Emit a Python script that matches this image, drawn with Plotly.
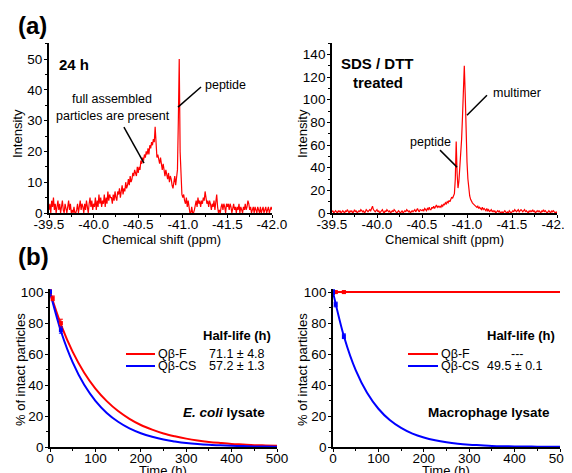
import plotly.graph_objects as go

# The page body has an 8px default margin, so the figure is drawn 8px in from the corner.
W, H, OFF = 572, 473, 8
FW, FH = W - OFF, H - OFF
FONT = "Arial, Liberation Sans, sans-serif"

# ---------------- data ----------------
shift_start, shift_step, n_pts = -39.5, -0.01, 251
shift_ppm = [round(shift_start + shift_step * i, 2) for i in range(n_pts)]
shift_ticks = [-39.5, -40.0, -40.5, -41.0, -41.5, -42.0]
shift_ticktext = ["-39.5", "-40.0", "-40.5", "-41.0", "-41.5", "-42.0"]

intensity_24h = [
    1, 3, 0, 4, 2, 5, 1, 3, 0, 2,
    4, 1, 3, 0, 2, 4, 1, 0, 3, 1,
    0, 2, 4, 1, 3, 0, 1, 0, 2, 0,
    0, 1, 3, 0, 2, 4, 1, 3, 2, 0,
    3, 1, 4, 2, 0, 3, 5, 2, 4, 1,
    3, 2, 5, 1, 4, 2, 6, 3, 5, 2,
    4, 3, 6, 2, 5, 3, 7, 4, 6, 5,
    5, 3, 6, 4, 7, 5, 4, 7, 6, 8,
    5, 7, 9, 6, 8, 7, 10, 8, 9, 11,
    9, 12, 10, 11, 13, 12, 14, 13, 12, 15,
    13, 15, 14, 17, 16, 18, 17, 19, 18, 20,
    19, 21, 19, 22, 21, 23, 22, 24, 23, 28,
    22, 18, 19, 17, 16, 18, 15, 14, 16, 13,
    12, 14, 12, 11, 13, 10, 12, 11, 9, 8,
    10, 12, 9, 11, 14, 30, 50, 20, 8, 6,
    5, 6, 4, 3, 5, 2, 4, 1, 0, 0,
    2, 0, 0, 1, 3, 4, 2, 5, 3, 4,
    2, 4, 3, 5, 4, 7, 5, 3, 4, 2,
    4, 3, 1, 3, 2, 4, 1, 5, 6, 2,
    0, 1, 0, 2, 3, 1, 3, 2, 0, 3,
    2, 3, 1, 3, 2, 0, 2, 3, 1, 2,
    0, 2, 1, 3, 0, 2, 1, 0, 2, 1,
    3, 1, 2, 4, 3, 1, 2, 0, 1, 2,
    0, 2, 1, 0, 2, 1, 0, 2, 0, 1,
    2, 0, 1, 2, 0, 1, 2, 0, 1, 2, 1,
]

intensity_sds = [
    1, 2, 0, 1, 2, 1, 0, 2, 1, 2,
    0, 1, 2, 1, 0, 2, 1, 3, 1, 0,
    2, 1, 2, 0, 1, 3, 1, 2, 0, 1,
    2, 1, 3, 2, 1, 2, 0, 1, 3, 2,
    1, 2, 3, 2, 4, 6, 3, 2, 1, 2,
    3, 1, 2, 0, 1, 2, 3, 1, 0, 2,
    1, 3, 2, 1, 2, 0, 1, 2, 1, 3,
    2, 1, 0, 1, 2, 1, 0, 1, 2, 0,
    1, 2, 1, 3, 2, 1, 2, 0, 1, 2,
    1, 2, 3, 1, 2, 4, 2, 1, 3, 2,
    2, 3, 2, 4, 3, 2, 4, 3, 5, 3,
    3, 5, 4, 6, 4, 5, 7, 5, 6, 5,
    6, 5, 7, 6, 8, 7, 9, 8, 10, 9,
    11, 10, 12, 14, 13, 15, 17, 30, 63, 35,
    22, 28, 38, 50, 65, 85, 110, 130, 105, 70,
    45, 30, 20, 15, 12, 10, 9, 8, 7, 6,
    6, 5, 6, 4, 5, 4, 3, 5, 3, 4,
    3, 2, 4, 2, 3, 1, 2, 3, 1, 2,
    1, 2, 0, 1, 2, 1, 2, 0, 1, 1,
    0, 1, 2, 1, 0, 1, 0, 2, 1, 0,
    1, 2, 1, 3, 2, 1, 2, 3, 1, 2,
    3, 2, 1, 2, 3, 1, 2, 1, 0, 2,
    1, 2, 1, 3, 1, 2, 0, 1, 2, 1,
    2, 1, 0, 2, 1, 3, 1, 2, 1, 0,
    1, 2, 1, 0, 2, 1, 2, 1, 0, 1, 0,
]

time_h = [0, 25, 50, 75, 100, 125, 150, 175, 200, 225, 250,
          275, 300, 325, 350, 375, 400, 425, 450, 475, 500]
ecoli_F = [100, 78.4, 61.4, 48.1, 37.7, 29.6, 23.2, 18.2, 14.2, 11.2, 8.7,
           6.9, 5.4, 4.2, 3.3, 2.6, 2.0, 1.6, 1.2, 1.0, 0.8]
ecoli_CS = [100, 73.9, 54.6, 40.3, 29.8, 22.0, 16.3, 12.0, 8.9, 6.6, 4.8,
            3.6, 2.6, 1.9, 1.4, 1.1, 0.8, 0.6, 0.4, 0.3, 0.2]
macro_F = [100] * 21
macro_CS = [100, 70.5, 49.6, 35.0, 24.7, 17.4, 12.3, 8.6, 6.1, 4.3, 3.0,
            2.1, 1.5, 1.1, 0.7, 0.5, 0.4, 0.3, 0.2, 0.1, 0.1]

# measured points (time, value, error)
pts_ecoli_F_t, pts_ecoli_F_y, pts_ecoli_F_e = [0, 6, 24], [100, 96, 80], [1.5, 1.5, 2.5]
pts_ecoli_CS_t, pts_ecoli_CS_y, pts_ecoli_CS_e = [0, 24], [100, 75.5], [2, 2]
pts_macro_F_t, pts_macro_F_y, pts_macro_F_e = [0, 6, 24], [100, 100, 100], [0.8, 0.8, 0.8]
pts_macro_CS_t, pts_macro_CS_y, pts_macro_CS_e = [0, 6, 24], [100, 92, 71.5], [1.5, 1.5, 1.5]

RED, BLUE = "#ff0000", "#0000ff"

fig = go.Figure()

# panel a
fig.add_trace(go.Scatter(x=shift_ppm, y=intensity_24h, mode="lines",
                         line=dict(color=RED, width=1.2), xaxis="x", yaxis="y"))
fig.add_trace(go.Scatter(x=shift_ppm, y=intensity_sds, mode="lines",
                         line=dict(color=RED, width=1.2), xaxis="x2", yaxis="y2"))

# panel b
def curve(t, y, color, xa, ya):
    fig.add_trace(go.Scatter(x=t, y=y, mode="lines", line=dict(color=color, width=2, shape="spline"),
                             xaxis=xa, yaxis=ya))

def points(t, y, e, color, xa, ya):
    fig.add_trace(go.Scatter(x=t, y=y, mode="markers",
                             marker=dict(color=color, size=4, symbol="square"),
                             error_y=dict(type="data", array=e, color=color, thickness=1, width=2),
                             xaxis=xa, yaxis=ya))

curve(time_h, ecoli_F, RED, "x3", "y3")
curve(time_h, ecoli_CS, BLUE, "x3", "y3")
points(pts_ecoli_F_t, pts_ecoli_F_y, pts_ecoli_F_e, RED, "x3", "y3")
points(pts_ecoli_CS_t, pts_ecoli_CS_y, pts_ecoli_CS_e, BLUE, "x3", "y3")
curve(time_h, macro_F, RED, "x4", "y4")
curve(time_h, macro_CS, BLUE, "x4", "y4")
points(pts_macro_F_t, pts_macro_F_y, pts_macro_F_e, RED, "x4", "y4")
points(pts_macro_CS_t, pts_macro_CS_y, pts_macro_CS_e, BLUE, "x4", "y4")

def px(x):
    return (x - OFF) / FW

def py(y):
    return 1 - (y - OFF) / FH

base_axis = dict(showline=True, linecolor="black", linewidth=1.8, ticks="outside", ticklen=3,
                 tickwidth=1.2, tickcolor="black", showgrid=False, zeroline=False, automargin=False,
                 ticklabeloverflow="allow",
                 tickfont=dict(size=13.5, color="black", family=FONT),
                 minor=dict(ticks="outside", ticklen=2, tickwidth=1, tickcolor="black"))

def shift_axis(dom, anchor):
    d = dict(base_axis, domain=dom, anchor=anchor, range=[-39.5, -42.0],
             tickmode="array", tickvals=shift_ticks, ticktext=shift_ticktext, ticklabelstandoff=-5)
    d["minor"] = dict(base_axis["minor"], dtick=0.25, tick0=-39.5)
    return d

def lin_axis(dom, anchor, rng, dtick, minor_dtick, standoff):
    d = dict(base_axis, domain=dom, anchor=anchor, range=rng, dtick=dtick, tick0=0,
             ticklabelstandoff=standoff)
    d["minor"] = dict(base_axis["minor"], dtick=minor_dtick)
    return d

ya_dom = [py(213), py(43)]
yb_dom = [py(447), py(289)]

fig.update_layout(
    width=FW, height=FH, margin=dict(l=0, r=0, t=0, b=0, autoexpand=False),
    paper_bgcolor="white", plot_bgcolor="white", showlegend=False,
    font=dict(family=FONT, color="black"),
    xaxis=shift_axis([px(49), px(272)], "y"),
    yaxis=lin_axis(ya_dom, "x", [0, 55.2], 10, 5, -1),
    xaxis2=shift_axis([px(332), px(557)], "y2"),
    yaxis2=lin_axis(ya_dom, "x2", [0, 150], 20, 10, -1),
    xaxis3=lin_axis([px(50), px(277)], "y3", [0, 500], 100, 50, -5),
    yaxis3=lin_axis(yb_dom, "x3", [0, 102], 20, 10, -1),
    xaxis4=lin_axis([px(333), px(560)], "y4", [0, 500], 100, 50, -5),
    yaxis4=lin_axis(yb_dom, "x4", [0, 102], 20, 10, -1),
)

ann = []
def text(x, y, s, size=12.5, bold=False, xanchor="center", angle=0):
    if bold:
        s = "<b>" + s + "</b>"
    ann.append(dict(x=px(x), y=py(y), xref="paper", yref="paper", text=s, showarrow=False,
                    xanchor=xanchor, yanchor="middle", textangle=angle,
                    font=dict(size=size, color="black", family=FONT)))

# panel labels
text(32, 25, "(a)", size=24, bold=True)
text(33, 256, "(b)", size=24, bold=True)
# axis titles
text(161, 239, "Chemical shift (ppm)", size=13)
text(444, 239, "Chemical shift (ppm)", size=13)
text(17, 134, "Intensity", size=13, angle=-90)
text(302, 134, "Intensity", size=13, angle=-90)
text(163, 470, "Time (h)", size=13)
text(446, 470, "Time (h)", size=13)
text(20, 370, "% of intact particles", size=13, angle=-90)
text(302, 370, "% of intact particles", size=13, angle=-90)
# panel a texts
text(57, 65, "24 h", size=15, bold=True, xanchor="left")
text(203, 85, "peptide", xanchor="left")
text(112, 99, "full assembled")
text(113, 116, "particles are present")
text(377, 63, "SDS / DTT", size=15, bold=True)
text(378, 82, "treated", size=15, bold=True)
text(491, 93, "multimer", xanchor="left")
text(430, 142, "peptide")
# panel b texts
text(237, 335, "Half-life (h)", size=13, bold=True)
text(156, 354, "Qβ-F", size=12.5, xanchor="left")
text(156, 366, "Qβ-CS", size=12.5, xanchor="left")
text(237, 354, "71.1 ± 4.8", size=12.5)
text(237, 366, "57.2 ± 1.3", size=12.5)
text(267, 412, "<b><i>E. coli</i> lysate</b>", size=13.5, xanchor="right")
text(521, 335, "Half-life (h)", size=13, bold=True)
text(439, 354, "Qβ-F", size=12.5, xanchor="left")
text(439, 366, "Qβ-CS", size=12.5, xanchor="left")
text(517, 354, "---", size=12.5)
text(515, 366, "49.5 ± 0.1", size=12.5)
text(552, 412, "Macrophage lysate", size=13.5, bold=True, xanchor="right")

shapes = [
    # pointer lines (data coordinates)
    dict(type="line", xref="x", yref="y", x0=-41.204, y0=40.9, x1=-40.946, y1=34.4,
         line=dict(color="black", width=1.5)),
    dict(type="line", xref="x", yref="y", x0=-40.34, y0=27.9, x1=-40.565, y1=16.2,
         line=dict(color="black", width=1.5)),
    dict(type="line", xref="x2", yref="y2", x0=-41.222, y0=103.9, x1=-41.0, y1=86.3,
         line=dict(color="black", width=1.5)),
    dict(type="line", xref="x2", yref="y2", x0=-40.70, y0=55.5, x1=-40.889, y1=40.5,
         line=dict(color="black", width=1.5)),
    # legend samples
    dict(type="line", xref="paper", yref="paper", x0=px(126), x1=px(155), y0=py(354), y1=py(354),
         line=dict(color=RED, width=2)),
    dict(type="line", xref="paper", yref="paper", x0=px(126), x1=px(155), y0=py(366), y1=py(366),
         line=dict(color=BLUE, width=2)),
    dict(type="line", xref="paper", yref="paper", x0=px(408), x1=px(438), y0=py(354), y1=py(354),
         line=dict(color=RED, width=2)),
    dict(type="line", xref="paper", yref="paper", x0=px(408), x1=px(438), y0=py(366), y1=py(366),
         line=dict(color=BLUE, width=2)),
]

fig.update_layout(annotations=ann, shapes=shapes)
fig.write_html("out.html")
